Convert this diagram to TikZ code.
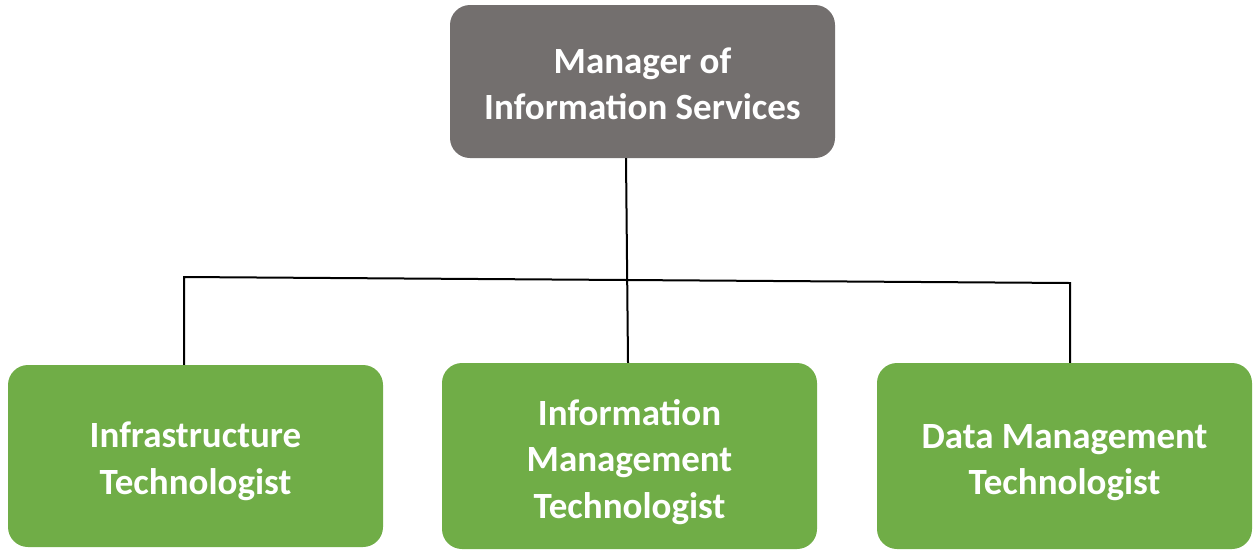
\documentclass[tikz,border=0pt]{standalone}
\usepackage{fontspec}
\setmainfont{Carlito}
\definecolor{boxgray}{HTML}{736F6E}
\definecolor{boxgreen}{HTML}{70AD47}
\begin{document}
\begin{tikzpicture}[x=1pt,y=-1pt,
  box/.style={rounded corners=20pt, inner sep=0pt},
  txt/.style={text=white, font=\fontsize{37}{46.5}\selectfont\bfseries, align=center, inner sep=0pt},
  conn/.style={line width=2pt, black}]
\useasboundingbox (0,0) rectangle (1255,550);
\node[box, fill=boxgray, minimum width=385pt, minimum height=153pt] (top) at (642.5,81.5) {};
\node[box, fill=boxgreen, minimum width=375pt, minimum height=182pt] (left) at (195.5,456) {};
\node[box, fill=boxgreen, minimum width=375pt, minimum height=186pt] (mid) at (629.5,456) {};
\node[box, fill=boxgreen, minimum width=375pt, minimum height=186pt] (right) at (1064.5,456) {};
\node[txt] (toptxt) at ([yshift=-2.5pt]top.center) {Manager of\\Information Services};
\node[txt] (lefttxt) at ([yshift=-5.5pt]left.center) {Infrastructure\\Technologist};
\node[txt] (midtxt) at ([yshift=-6pt]mid.center) {Information\\Management\\Technologist};
\node[txt] (righttxt) at ([yshift=-6.5pt]right.center) {Data Management\\Technologist};
\coordinate (hl) at (184,277);
\coordinate (hr) at (1070,283);
\draw[conn] ([xshift=-16.5pt]top.south) -- ([xshift=-1.5pt]mid.north);
\draw[conn] (left.north -| hl) -- (hl) -- (hr) -- (right.north -| hr);
\end{tikzpicture}
\end{document}
